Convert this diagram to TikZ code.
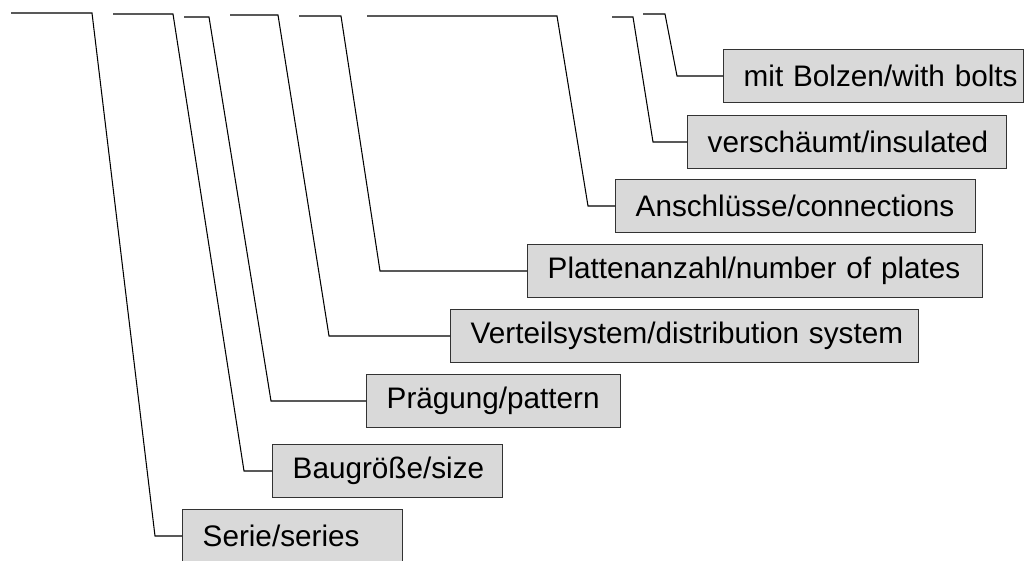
\documentclass[tikz,border=0pt]{standalone}
\usepackage{fontspec}
\setmainfont{Liberation Sans}
\usepackage{xcolor}
\usetikzlibrary{positioning}

\begin{document}
\begin{tikzpicture}[x=0.02cm, y=-0.02cm,
    tag/.style={rectangle, draw=black!80, line width=0.8pt,
      fill=gray!30,
      minimum height=1.06cm,
      inner xsep=0.4cm, inner ysep=0pt,
      anchor=west, align=left,
      font=\fontsize{16.9pt}{20pt}\selectfont},
    lead/.style={draw=black, line width=0.6pt, line join=miter}]

    \useasboundingbox (0,0) rectangle (1024,561);

    % boxes
    \node[tag, text width=3.6cm] (serie) at (182,536) {\mbox{Serie/series}};

    \node[tag, text width=3.8cm] (baug) at (272,471) {\mbox{Baugröße/size}};

    \node[tag, text width=4.28cm] (praeg) at (366,401) {\mbox{Prägung/pattern}};

    \node[tag, text width=8.56cm] (vert) at (450,336)
      {\mbox{Verteilsystem/distribution system}};

    \node[tag, text width=8.3cm] (platt) at (527,271)
      {\mbox{Plattenanzahl/number of plates}};

    \node[tag, text width=6.4cm] (ansch) at (615,206)
      {\mbox{Anschlüsse/connections}};

    \node[tag, text width=5.58cm] (versch) at (687,142)
      {\mbox{verschäumt/insulated}};

    \node[tag, text width=5.2cm] (bolz) at (723,76)
      {\mbox{mit Bolzen/with bolts}};

    % leaders
    \coordinate (serie-a) at (11,13);
    \coordinate (serie-b) at (92,13);
    \coordinate (serie-c) at (155,536);

    \coordinate (baug-a) at (113,14);
    \coordinate (baug-b) at (173,14);
    \coordinate (baug-c) at (244,471);

    \coordinate (praeg-a) at (184,17);
    \coordinate (praeg-b) at (209,17);
    \coordinate (praeg-c) at (271,401);

    \coordinate (vert-a) at (230,15);
    \coordinate (vert-b) at (278,15);
    \coordinate (vert-c) at (329,336);

    \coordinate (platt-a) at (299,16);
    \coordinate (platt-b) at (341,16);
    \coordinate (platt-c) at (380,271);

    \coordinate (ansch-a) at (367,16);
    \coordinate (ansch-b) at (557,16);
    \coordinate (ansch-c) at (588,206);

    \coordinate (versch-a) at (612,17);
    \coordinate (versch-b) at (633,17);
    \coordinate (versch-c) at (653,142);

    \coordinate (bolz-a) at (643,14);
    \coordinate (bolz-b) at (665,14);
    \coordinate (bolz-c) at (677,76);

    \draw[lead] (serie-a) -- (serie-b) -- (serie-c) -- (serie.west);
    \draw[lead] (baug-a) -- (baug-b) -- (baug-c) -- (baug.west);
    \draw[lead] (praeg-a) -- (praeg-b) -- (praeg-c) -- (praeg.west);
    \draw[lead] (vert-a) -- (vert-b) -- (vert-c) -- (vert.west);
    \draw[lead] (platt-a) -- (platt-b) -- (platt-c) -- (platt.west);
    \draw[lead] (ansch-a) -- (ansch-b) -- (ansch-c) -- (ansch.west);
    \draw[lead] (versch-a) -- (versch-b) -- (versch-c) -- (versch.west);
    \draw[lead] (bolz-a) -- (bolz-b) -- (bolz-c) -- (bolz.west);
\end{tikzpicture}
\end{document}
